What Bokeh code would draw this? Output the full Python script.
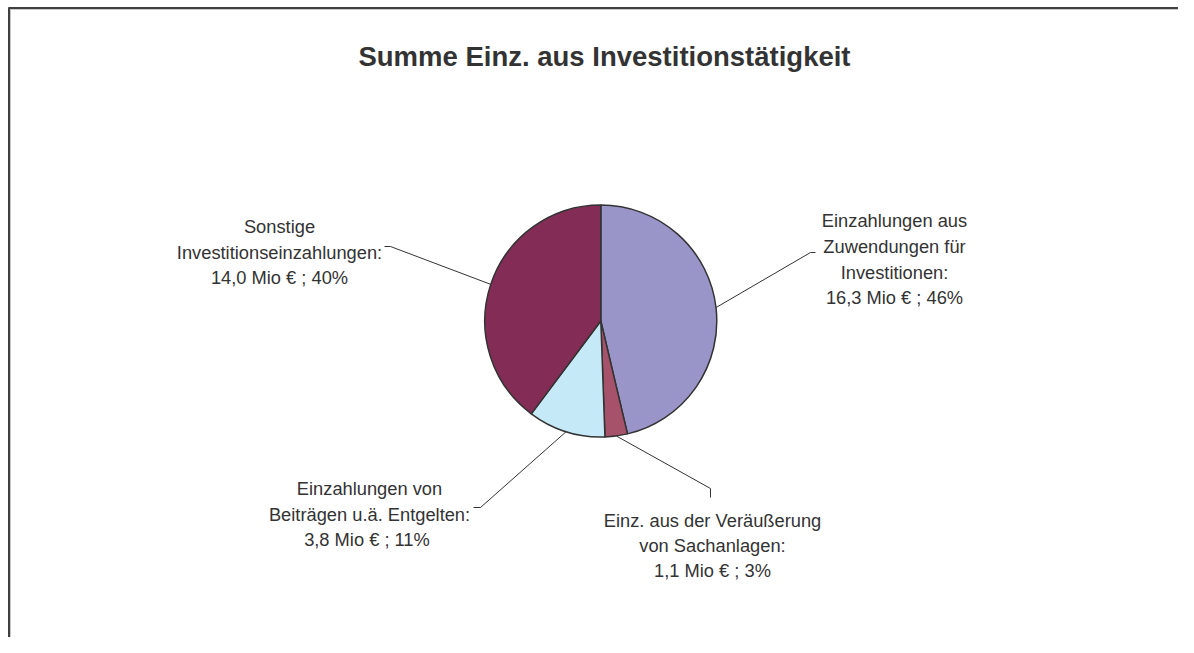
import numpy as np
from bokeh.plotting import figure
from bokeh.models import Range1d, ColumnDataSource
from bokeh.core.properties import value
from bokeh.embed import file_html
from bokeh.resources import INLINE

# ---------------- data ----------------
title = "Summe Einz. aus Investitionstätigkeit"
categories = [
    "Einzahlungen aus\nZuwendungen für\nInvestitionen:",
    "Einz. aus der Veräußerung\nvon Sachanlagen:",
    "Einzahlungen von\nBeiträgen u.ä. Entgelten:",
    "Sonstige\nInvestitionseinzahlungen:",
]
values_mio = [16.3, 1.1, 3.8, 14.0]
value_labels = ["16,3 Mio € ; 46%", "1,1 Mio € ; 3%", "3,8 Mio €  ; 11%", "14,0 Mio € ; 40%"]
colors = ["#9A95C9", "#A5526A", "#C6E9F8", "#832C55"]

# ---------------- layout (pixel space; picture coords -> data) ----------------
W, H = 1178, 637
def X(ix): return ix
def Y(iy): return H - iy

cx, cy, r = X(600.3), Y(320.5), 116

# label anchors: (center x, first baseline, spacing) in picture coords
label_pos = [(894, 220, 25.8), (712, 520, 24.8), (369, 488, 25.5), (279, 226, 25.6)]
# leader elbow and end points (picture coords)
leader_elbow = [(810, 252), (710, 488), (480, 507), (390, 246)]
leader_end = [(815, 252), (710, 497), (473, 507), (384, 246)]

p = figure(width=W, height=H, output_backend="svg", toolbar_location=None,
           x_range=Range1d(0, W), y_range=Range1d(0, H), min_border=0)
p.axis.visible = False
p.grid.visible = False
p.outline_line_color = None
p.background_fill_color = "white"
p.border_fill_color = "white"

# pie wedges
vals = np.array(values_mio)
frac = vals / vals.sum()
cum = np.concatenate([[0], np.cumsum(frac)])
start = np.pi / 2 - cum[:-1] * 2 * np.pi
end = np.pi / 2 - cum[1:] * 2 * np.pi
src = ColumnDataSource(dict(x=[cx] * len(vals), y=[cy] * len(vals), start=start, end=end, color=colors))
p.wedge(x="x", y="y", radius=r, start_angle="start", end_angle="end", direction="clock",
        fill_color="color", line_color="#333333", line_width=1.5, source=src)

# leader lines
mid = np.pi / 2 - (cum[:-1] + frac / 2) * 2 * np.pi
for i in range(len(vals)):
    sx = cx + r * np.cos(mid[i])
    sy = cy + r * np.sin(mid[i])
    ex, ey = leader_elbow[i]
    fx, fy = leader_end[i]
    p.line([sx, X(ex), X(fx)], [sy, Y(ey), Y(fy)], line_color="#333333", line_width=1)

# labels
tx, ty, tt = [], [], []
for i in range(len(vals)):
    lines = categories[i].split("\n") + [value_labels[i]]
    lx, b0, sp = label_pos[i]
    for j, ln in enumerate(lines):
        tx.append(X(lx)); ty.append(Y(b0 + j * sp)); tt.append(ln)
p.text(x=tx, y=ty, text=tt, text_align="center", text_baseline="alphabetic",
       text_font=value("Liberation Sans"), text_font_size="18.3px", text_color="#333333")

# title
p.text(x=[X(604)], y=[Y(56)], text=[title], text_align="center", text_baseline="alphabetic",
       text_font=value("Liberation Sans"), text_font_size="27.5px", text_font_style="bold",
       text_color="#333333")

# chart-area border (left and top visible)
p.line([X(8.5), X(8.5)], [0, Y(7)], line_color="#404040", line_width=2)
p.line([X(8), W], [Y(7.5), Y(7.5)], line_color="#404040", line_width=2)
p.line([X(10), X(10)], [0, Y(9)], line_color="#c8c8c8", line_width=1)
p.line([X(9.5), W], [Y(9), Y(9)], line_color="#c8c8c8", line_width=1)

open("out.html", "w").write(file_html(p, INLINE))
